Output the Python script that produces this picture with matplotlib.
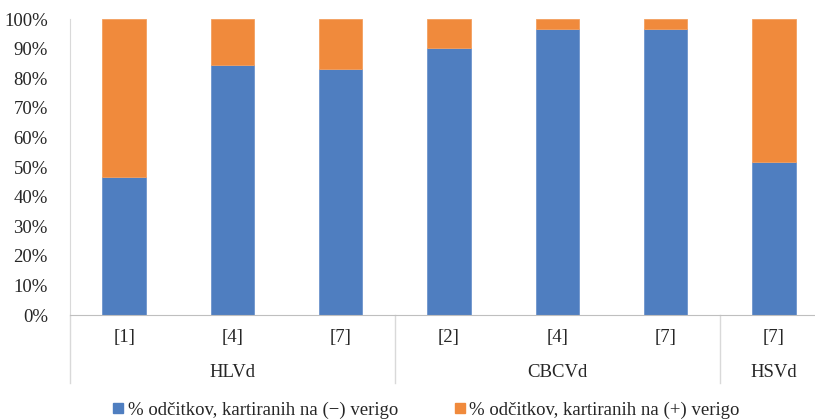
import matplotlib.pyplot as plt
from matplotlib.lines import Line2D
from matplotlib.ticker import PercentFormatter

plt.rcParams["font.family"] = ["Liberation Serif", "DejaVu Serif"]
plt.rcParams["font.size"] = 13.5

# podatki
LABELS = ["[1]", "[4]", "[7]", "[2]", "[4]", "[7]", "[7]"]
GROUPS = ["HLVd", "CBCVd", "HSVd"]
GROUP_SIZES = [3, 3, 1]
NEG = [46.6, 84.5, 83.2, 90.2, 96.6, 96.6, 51.7]
POS = [100 - v for v in NEG]

BLUE = "#4f7ec0"
ORANGE = "#f08a3c"
GRID = "#d9d9d9"


def main():
    fig = plt.figure(figsize=(8.15, 4.19), dpi=100)
    # plot area is wider than the image, Excel cut it off on the right
    ax = fig.add_axes([70 / 815, 104 / 419, 758 / 815, 296 / 419])

    x = range(len(LABELS))
    ax.bar(x, NEG, width=0.4, color=BLUE, edgecolor="#6f95cc", linewidth=0.6)
    ax.bar(x, POS, width=0.4, bottom=NEG, color=ORANGE, edgecolor="#f3a060", linewidth=0.6)

    ax.set_xlim(-0.5, len(LABELS) - 0.5)
    ax.set_ylim(0, 100)
    ax.set_yticks(range(0, 101, 10))
    ax.yaxis.set_major_formatter(PercentFormatter(decimals=0))
    ax.tick_params(axis="y", length=0, pad=16, labelcolor="#262626")
    ax.set_xticks([])

    for s in ["top", "right"]:
        ax.spines[s].set_visible(False)
    ax.spines["left"].set_color(GRID)
    ax.spines["bottom"].set_color("#bfbfbf")

    trans = ax.get_xaxis_transform()
    for i, lab in enumerate(LABELS):
        ax.text(i, -0.075, lab, transform=trans, ha="center", va="center", color="#262626")

    # group labels and dividers
    start = 0
    ax.plot([-0.5, -0.5], [0, -0.23], transform=trans, color=GRID, lw=1, clip_on=False)
    for g, n in zip(GROUPS, GROUP_SIZES):
        mid = start + (n - 1) / 2
        ax.text(mid, -0.195, g, transform=trans, ha="center", va="center", color="#262626")
        start += n
        ax.plot([start - 0.5, start - 0.5], [0, -0.23], transform=trans, color=GRID, lw=1, clip_on=False)

    handles = [
        Line2D([], [], marker="s", ls="", color=BLUE, markersize=7),
        Line2D([], [], marker="s", ls="", color=ORANGE, markersize=7),
    ]
    names = ["% odčitkov, kartiranih na (−) verigo", "% odčitkov, kartiranih na (+) verigo"]
    fig.legend(handles, names, loc="center", bbox_to_anchor=(426 / 815, 1 - 410 / 419), ncol=2,
               frameon=False, handlelength=0.6, handletextpad=0.2, columnspacing=3.0,
               labelcolor="#262626")

    plt.savefig("out.png", dpi=100)


if __name__ == "__main__":
    main()
